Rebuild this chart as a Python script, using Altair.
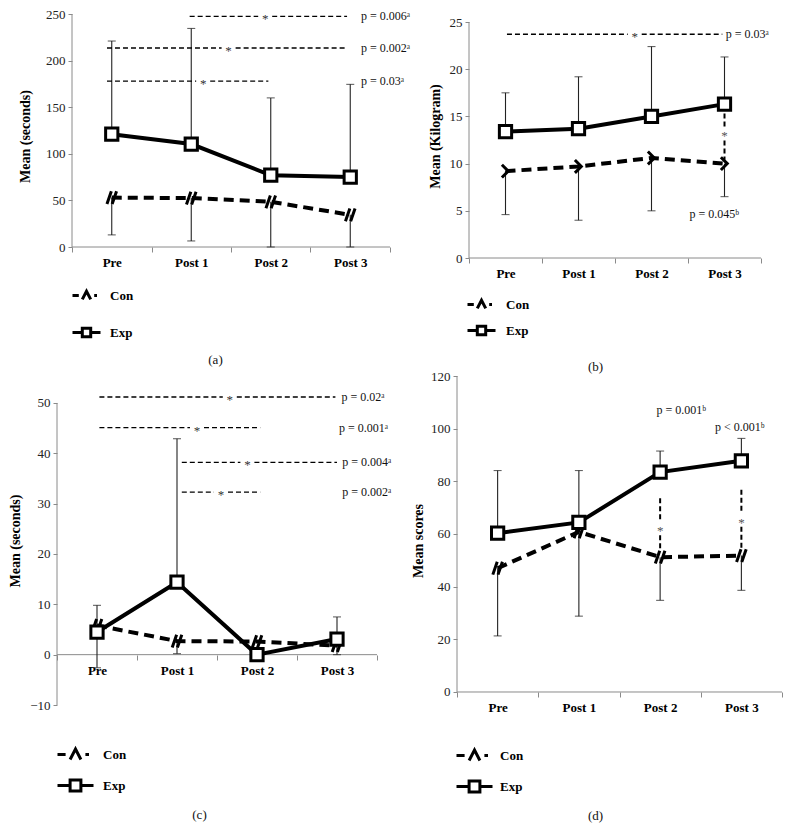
import altair as alt
import pandas as pd

FONT = "Liberation Serif"
AX = "#8a8a8a"

cats = ["Pre", "Post 1", "Post 2", "Post 3"]

# Panel (a)
a_exp = [121, 110.5, 77, 75]
a_exp_hi = [221, 234.5, 160, 174.5]
a_con = [53, 52.5, 48.5, 34.5]
a_con_lo = [13, 6.5, 0, 0]
a_sig_y = [247.5, 213.5, 178]
a_sig_x1 = [1.48, 0.44, 0.44]
a_sig_x2 = [3.46, 3.46, 2.47]
a_star_x = [2.43, 1.97, 1.65]
a_p_text = ["p = 0.006ᵃ", "p = 0.002ᵃ", "p = 0.03ᵃ"]
a_p_x = [3.61, 3.61, 3.61]

# Panel (b)
b_exp = [13.4, 13.7, 15.0, 16.3]
b_exp_hi = [17.5, 19.2, 22.4, 21.3]
b_con = [9.2, 9.7, 10.6, 10.0]
b_con_lo = [4.6, 4.0, 5.0, 6.5]
b_sig_y = [23.7]
b_sig_x1 = [0.52]
b_sig_x2 = [3.47]
b_star_x = [2.27]
b_p_text = ["p = 0.03ᵃ"]
b_p_x = [3.49]
b_vsig_x = [3.5]
b_vsig_y1 = [15.3]
b_vsig_y2 = [10.4]
b_vstar_y = [13.2]
b_note_text = ["p = 0.045ᵇ"]
b_note_x = [3.36]
b_note_y = [4.7]

# Panel (c)
c_exp = [4.5, 14.4, 0.0, 3.1]
c_exp_hi = [9.8, 42.9, None, 7.5]
c_con = [5.8, 2.7, 2.6, 1.8]
c_con_lo = [-2.6, 0.2, None, 0.0]
c_sig_y = [51.2, 45.1, 38.2, 32.3]
c_sig_x1 = [0.53, 0.53, 1.56, 1.56]
c_sig_x2 = [3.48, 2.54, 3.5, 2.54]
c_star_x = [2.16, 1.75, 2.38, 2.05]
c_p_text = ["p = 0.02ᵃ", "p = 0.001ᵃ", "p = 0.004ᵃ", "p = 0.002ᵃ"]
c_p_x = [3.53, 3.5, 3.54, 3.54]

# Panel (d)
d_exp = [60.3, 64.4, 83.5, 87.8]
d_exp_hi = [84.1, 84.1, 91.5, 96.3]
d_con = [47.0, 60.8, 51.2, 51.8]
d_con_lo = [21.3, 28.8, 34.8, 38.6]
d_vsig_x = [2.5, 3.5]
d_vsig_y1 = [73.6, 76.8]
d_vsig_y2 = [54.5, 54.0]
d_vstar_y = [62.2, 65.4]
d_note_text = ["p = 0.001ᵇ", "p < 0.001ᵇ"]
d_note_x = [2.76, 3.48]
d_note_y = [107.2, 100.6]

CON_SLASH = "M-0.6,0.8L-0.05,-0.8M0.05,0.8L0.6,-0.8"
CON_CHEV = "M-0.45,-0.8L0.35,0L-0.45,0.8"
LEG_CON = "M-1,0H-0.55M-0.3,0.28L0,-0.3L0.3,0.28M0.55,0H0.75"
LEG_EXP = "M-1,0H-0.3M-0.3,-0.3H0.3V0.3H-0.3ZM0.3,0H1"

xs = [i + 0.5 for i in range(len(cats))]


def panel(cfg):
    W, H = cfg["w"], cfg["h"]
    xl, xr = cfg["xdom"]
    lo, hi = cfg["dom"]
    alo, ahi = cfg["axis"]
    ppx = W / (xr - xl)
    ppy = H / (hi - lo)

    label_expr = ("datum.value % 1 == 0 ? '' : " + str(cats) + "[floor(datum.value)]")
    xaxis = alt.Axis(
        values=[i * 0.5 for i in range(9)], labelExpr=label_expr, title=None, grid=False,
        tickOpacity=alt.condition("datum.value % 1 == 0", alt.value(1), alt.value(0)),
        tickSize=5, tickColor=AX, domain=False, labelFont=FONT,
        labelFontWeight="bold", labelFontSize=13, labelColor="black", labelPadding=4,
        labelOverlap=False, labelFlush=False, offset=cfg["xoff"])
    yaxis = alt.Axis(
        values=cfg["yvals"], domain=False, grid=False, tickSize=4, tickColor=AX,
        labelFont=FONT, labelFontSize=13, labelColor="#222", labelPadding=3,
        title=cfg["ytitle"], titleFont=FONT, titleFontSize=14, titleFontWeight="bold",
        titleColor="black", titlePadding=cfg["tpad"], offset=cfg["yoff"])
    X = alt.X("x:Q", scale=alt.Scale(domain=[xl, xr], nice=False, zero=False), axis=xaxis)
    Y = alt.Y("y:Q", scale=alt.Scale(domain=[lo, hi], nice=False, zero=False), axis=yaxis)

    layers = []
    # axis lines
    ydf = pd.DataFrame({"x": [0], "y": [alo], "y2": [ahi]})
    layers.append(alt.Chart(ydf).mark_rule(color=AX, strokeWidth=1).encode(x="x:Q", y="y:Q", y2="y2:Q"))
    xdf0 = pd.DataFrame({"x": [0], "x2": [4], "y": [0]})
    layers.append(alt.Chart(xdf0).mark_rule(color=AX, strokeWidth=1).encode(x="x:Q", x2="x2:Q", y="y:Q"))

    # error bars
    rows = []
    for x, m, e in zip(xs, cfg["exp"], cfg["exp_hi"]):
        if e is not None:
            rows.append({"x": x, "y": m, "y2": e})
    for x, m, e in zip(xs, cfg["con"], cfg["con_lo"]):
        if e is not None:
            rows.append({"x": x, "y": m, "y2": e})
    edf = pd.DataFrame(rows)
    layers.append(alt.Chart(edf).mark_rule(color="#222", strokeWidth=1.1).encode(x="x:Q", y="y:Q", y2="y2:Q"))
    layers.append(alt.Chart(edf).mark_tick(orient="horizontal", size=8, thickness=1.1, color="#222")
                  .encode(x="x:Q", y="y2:Q"))

    cdf = pd.DataFrame({"x": xs, "y": cfg["con"]})
    xdf = pd.DataFrame({"x": xs, "y": cfg["exp"]})
    layers.append(alt.Chart(cdf).mark_line(color="black", strokeWidth=4, strokeDash=[10, 6])
                  .encode(x="x:Q", y="y:Q"))
    layers.append(alt.Chart(xdf).mark_line(color="black", strokeWidth=4).encode(x="x:Q", y="y:Q"))
    layers.append(alt.Chart(cdf).mark_point(shape=cfg["conshape"], size=256, filled=False, color="black",
                                            strokeWidth=3, opacity=1).encode(x="x:Q", y="y:Q"))
    layers.append(alt.Chart(xdf).mark_point(shape="square", size=150, filled=True, fill="white",
                                            stroke="black", strokeWidth=3, opacity=1)
                  .encode(x="x:Q", y="y:Q"))

    # horizontal significance lines
    if cfg.get("sig_y"):
        g = 7.0 / ppx
        segs, stars, ptx = [], [], []
        for y, x1, x2, sx, t, tx in zip(cfg["sig_y"], cfg["sig_x1"], cfg["sig_x2"], cfg["star_x"],
                                       cfg["p_text"], cfg["p_x"]):
            segs.append({"x": x1, "x2": sx - g, "y": y})
            segs.append({"x": sx + g, "x2": x2, "y": y})
            stars.append({"x": sx, "y": y})
            ptx.append({"x": tx, "y": y, "t": t})
        layers.append(alt.Chart(pd.DataFrame(segs)).mark_rule(color="black", strokeWidth=1.4, strokeDash=[5, 3])
                      .encode(x="x:Q", x2="x2:Q", y="y:Q"))
        layers.append(alt.Chart(pd.DataFrame(stars)).mark_text(text="*", font=FONT, fontSize=13, dy=3,
                                                               color="#333").encode(x="x:Q", y="y:Q"))
        layers.append(alt.Chart(pd.DataFrame(ptx)).mark_text(align="left", baseline="middle", font=FONT,
                                                             fontSize=12, color="#111", dx=2)
                      .encode(x="x:Q", y="y:Q", text="t:N"))
    # vertical significance lines
    if cfg.get("vsig_x"):
        g = 7.0 / ppy
        segs, stars = [], []
        for x, y1, y2, sy in zip(cfg["vsig_x"], cfg["vsig_y1"], cfg["vsig_y2"], cfg["vstar_y"]):
            segs.append({"x": x, "y": y1, "y2": sy + g})
            segs.append({"x": x, "y": sy - g, "y2": y2})
            stars.append({"x": x, "y": sy})
        layers.append(alt.Chart(pd.DataFrame(segs)).mark_rule(color="black", strokeWidth=2, strokeDash=[5, 3])
                      .encode(x="x:Q", y="y:Q", y2="y2:Q"))
        layers.append(alt.Chart(pd.DataFrame(stars)).mark_text(text="*", font=FONT, fontSize=13, dy=3,
                                                               color="#555").encode(x="x:Q", y="y:Q"))
    if cfg.get("note_text"):
        ndf = pd.DataFrame({"x": cfg["note_x"], "y": cfg["note_y"], "t": cfg["note_text"]})
        layers.append(alt.Chart(ndf).mark_text(align="center", baseline="middle", font=FONT, fontSize=12,
                                               color="#111").encode(x="x:Q", y="y:Q", text="t:N"))

    # legend layer
    ldf = pd.DataFrame({"x": [0.5, 0.5], "y": [cfg["exp"][0]] * 2, "s": ["Con", "Exp"]})
    lg = cfg["legend"]
    layers.append(alt.Chart(ldf).mark_point(filled=False, color="black", opacity=0, size=10)
                  .encode(x="x:Q", y="y:Q",
                          shape=alt.Shape("s:N", scale=alt.Scale(domain=["Con", "Exp"], range=[LEG_CON, LEG_EXP]),
                                          legend=alt.Legend(orient="none", legendX=lg[0], legendY=lg[1],
                                                            direction="vertical", title=None, padding=0,
                                                            rowPadding=lg[2], labelOffset=lg[3],
                                                            symbolSize=lg[4], symbolStrokeWidth=3,
                                                            symbolStrokeColor="black", symbolFillColor="white",
                                                            symbolOpacity=1, labelFont=FONT, labelFontSize=13,
                                                            labelFontWeight="bold", labelColor="black"))))

    return alt.layer(*layers).encode(x=X, y=Y).properties(
        width=W, height=H,
        title=alt.TitleParams(cfg["cap"], orient="bottom", anchor="middle", offset=cfg["capoff"],
                              dx=cfg["capdx"], font=FONT, fontSize=13, fontWeight="normal", color="#111"))


# column 1 plot area: x 55..388 ; column 2: 455..780 ; row 1: y 14..258 ; row 2: y 376..705
cfg_a = dict(w=333, h=244, xdom=[-15 / 79.5, 4], yoff=-15, dom=[-11.8, 250], axis=[0, 250], xoff=-11,
             yvals=[0, 50, 100, 150, 200, 250],
             ytitle="Mean (seconds)", tpad=13, exp=a_exp, exp_hi=a_exp_hi, con=a_con, con_lo=a_con_lo,
             conshape=CON_SLASH, sig_y=a_sig_y, sig_x1=a_sig_x1, sig_x2=a_sig_x2, star_x=a_star_x,
             p_text=a_p_text, p_x=a_p_x, legend=[14, 266, 11, 8, 784], cap="(a)", capoff=11, capdx=-8)
cfg_b = dict(w=325, h=244, xdom=[-12 / 73, 4 + 21 / 73], yoff=-12, dom=[0, 25.85], axis=[0, 25], xoff=0,
             yvals=[0, 5, 10, 15, 20, 25],
             ytitle="Mean (Kilogram)", tpad=7, exp=b_exp, exp_hi=b_exp_hi, con=b_con, con_lo=b_con_lo,
             conshape=CON_CHEV, sig_y=b_sig_y, sig_x1=b_sig_x1, sig_x2=b_sig_x2, star_x=b_star_x,
             p_text=b_p_text, p_x=b_p_x, vsig_x=b_vsig_x, vsig_y1=b_vsig_y1, vsig_y2=b_vsig_y2,
             vstar_y=b_vstar_y, note_text=b_note_text, note_x=b_note_x, note_y=b_note_y,
             legend=[9, 275, -4, 9, 784], cap="(b)", capoff=20, capdx=-24)
cfg_c = dict(w=333, h=329, xdom=[0, 4 + 13 / 80], yoff=0, dom=[-10, 55.36], axis=[-10, 50], xoff=-50,
             yvals=[-10, 0, 10, 20, 30, 40, 50],
             ytitle="Mean (seconds)", tpad=7, exp=c_exp, exp_hi=c_exp_hi, con=c_con, con_lo=c_con_lo,
             conshape=CON_SLASH, sig_y=c_sig_y, sig_x1=c_sig_x1, sig_x2=c_sig_x2, star_x=c_star_x,
             p_text=c_p_text, p_x=c_p_x, legend=[-1, 359, 0, 8, 1296], cap="(c)", capoff=12, capdx=-24)
cfg_d = dict(w=325, h=329, xdom=[0, 4], yoff=0, dom=[-4.94, 120], axis=[0, 120], xoff=-13,
             yvals=[0, 20, 40, 60, 80, 100, 120],
             ytitle="Mean scores", tpad=5, exp=d_exp, exp_hi=d_exp_hi, con=d_con, con_lo=d_con_lo,
             conshape=CON_SLASH, vsig_x=d_vsig_x, vsig_y1=d_vsig_y1, vsig_y2=d_vsig_y2, vstar_y=d_vstar_y,
             note_text=d_note_text, note_x=d_note_x, note_y=d_note_y,
             legend=[-2, 360, -1, 6, 1296], cap="(d)", capoff=12, capdx=-24)

chart = alt.concat(panel(cfg_a), panel(cfg_b), panel(cfg_c), panel(cfg_d), columns=2,
                   spacing={"column": 67, "row": 118}, bounds="flush").properties(
    padding={"left": 0, "top": 0, "right": 0, "bottom": 0}, background="white"
).configure_view(stroke=None).resolve_scale(shape="independent", x="independent", y="independent")

chart.save("out.html", embed_options={"renderer": "svg", "actions": False})
